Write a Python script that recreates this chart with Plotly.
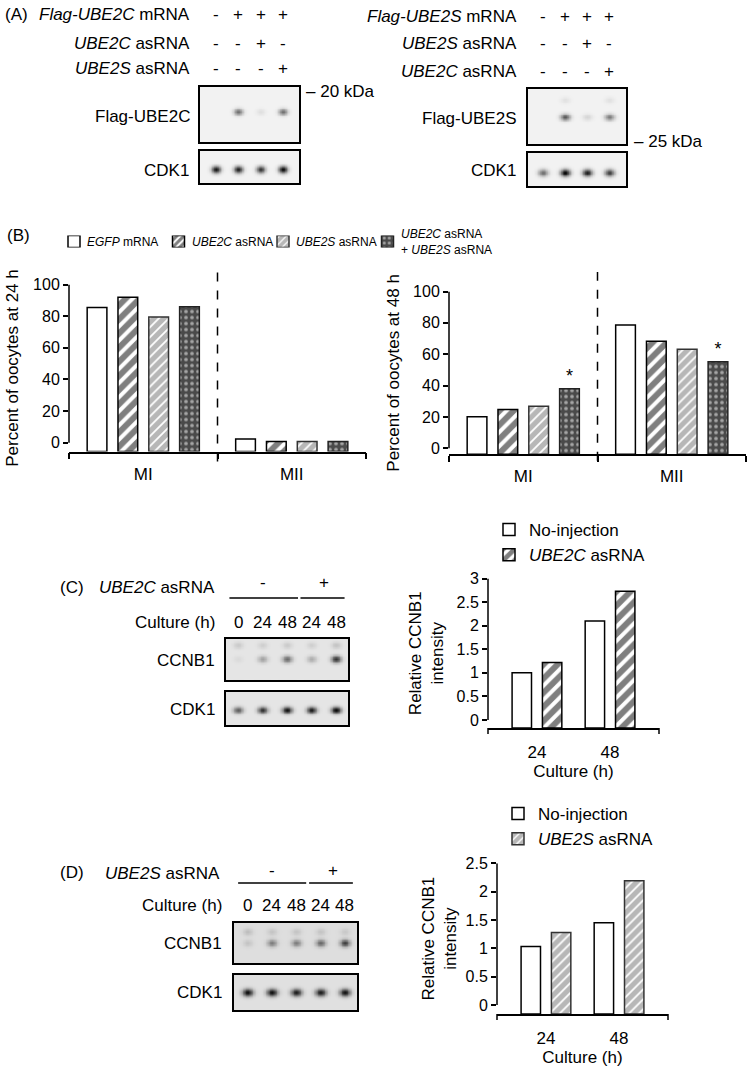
import numpy as np
import plotly.graph_objects as go

W, H = 749, 1068
FONT = "Liberation Sans, Arial, sans-serif"

# ---------------- data ----------------
# Panel A (western blots)
A_LEFT_LABELS = ["<i>Flag-UBE2C</i> mRNA", "<i>UBE2C</i> asRNA", "<i>UBE2S</i> asRNA"]
A_RIGHT_LABELS = ["<i>Flag-UBE2S</i> mRNA", "<i>UBE2S</i> asRNA", "<i>UBE2C</i> asRNA"]
A_SIGNS_ROW1 = ["-", "+", "+", "+"]
A_SIGNS_ROW2 = ["-", "-", "+", "-"]
A_SIGNS_ROW3 = ["-", "-", "-", "+"]
A_LEFT_FLAG = [0.0, 0.55, 0.08, 0.55]
A_LEFT_CDK1 = [0.95, 0.9, 0.8, 1.0]
A_RIGHT_FLAG = [0.0, 0.65, 0.12, 0.5]
A_RIGHT_FLAG_UPPER = [0.0, 0.07, 0.0, 0.07]
A_RIGHT_CDK1 = [0.55, 1.0, 0.9, 0.75]

# Panel B (bar charts)
B_CATEGORIES = ["MI", "MII"]
B_SERIES = ["EGFP mRNA", "UBE2C asRNA", "UBE2S asRNA", "UBE2C asRNA + UBE2S asRNA"]
B_LEGEND_TEXT = ["<i>EGFP</i> mRNA", "<i>UBE2C</i> asRNA", "<i>UBE2S</i> asRNA",
                 "<i>UBE2C</i> asRNA<br>+ <i>UBE2S</i> asRNA"]
B24_EGFP = [85.5, 2.4]
B24_UBE2C = [92.0, 0.8]
B24_UBE2S = [79.5, 0.8]
B24_BOTH = [86.0, 0.8]
B48_EGFP = [20.1, 78.7]
B48_UBE2C = [24.8, 68.3]
B48_UBE2S = [26.9, 63.2]
B48_BOTH = [38.0, 55.2]
B48_SIG = ["*", "*"]
B_YTICKS = [0, 20, 40, 60, 80, 100]

# Panels C / D
CULTURE_LANES = ["0", "24", "48", "24", "48"]
C_CCNB1_UPPER = [0.12, 0.10, 0.12, 0.10, 0.15]
C_CCNB1 = [0.05, 0.30, 0.55, 0.25, 0.80]
C_CDK1 = [0.60, 0.80, 0.95, 0.90, 1.00]
D_CCNB1_UPPER = [0.15, 0.12, 0.12, 0.12, 0.10]
D_CCNB1 = [0.12, 0.45, 0.45, 0.55, 0.75]
D_CDK1 = [0.95, 0.95, 0.90, 0.90, 0.95]

CULTURE = ["24", "48"]
C_NOINJ = [1.0, 2.1]
C_UBE2C = [1.22, 2.73]
C_YTICKS = [0, 0.5, 1, 1.5, 2, 2.5, 3]
D_NOINJ = [1.03, 1.45]
D_UBE2S = [1.28, 2.19]
D_YTICKS = [0, 0.5, 1, 1.5, 2, 2.5]


# ---------------- helpers ----------------
def xd(a, b):
    return [a / W, b / W]


def yd(top, bottom):
    return [1 - bottom / H, 1 - top / H]


def style(kind, size=None):
    if kind == "white":
        return dict(color="white", line=dict(color="black", width=1.5))
    if kind == "black":
        return dict(color="white", line=dict(color="black", width=1.5),
                    pattern=dict(shape="/", fgcolor="black", bgcolor="white",
                                 size=size or 10, solidity=0.6))
    if kind == "gray":
        return dict(color="white", line=dict(color="#333333", width=1.5),
                    pattern=dict(shape="/", fgcolor="#6f6f6f", bgcolor="white",
                                 size=size or 7, solidity=0.75))
    return dict(color="#4d4d4d", line=dict(color="#222222", width=1.5),
                pattern=dict(shape=".", fgcolor="white", bgcolor="#4a4a4a",
                             size=size or 6, solidity=0.3))


B_KINDS = ["white", "black", "gray", "checker"]

fig = go.Figure()
ann = []
shapes = []
lay = {}
TXT = 17


def text(x, y, s, xanchor="center", size=TXT, xref="paper", family=FONT, **kw):
    ann.append(dict(x=(x / W if xref == "paper" else x), y=1 - y / H, xref=xref, yref="paper",
                    text=s, showarrow=False, xanchor=xanchor, yanchor="middle",
                    font=dict(family=family, size=size, color="black"), **kw))


# ---------------- blots ----------------
def blot(ax, rows, xr, bg, sx, sy, dom_x, dom_y):
    x = np.linspace(xr[0], xr[1], 160)
    y = np.linspace(0, 1, 70)
    X, Y = np.meshgrid(x, y)
    dark = np.zeros_like(X)
    for yrow, ints in rows:
        for lane, inten in enumerate(ints):
            dark += inten * np.exp(-((X - lane) / sx) ** 2 - ((Y - yrow) / sy) ** 2)
    z = bg + (1 - bg) * np.clip(dark, 0, 1) * 0.97
    fig.add_trace(go.Heatmap(x=x, y=y, z=z, zmin=0, zmax=1, zsmooth="best",
                             colorscale=[[0, "#ffffff"], [1, "#000000"]], showscale=False,
                             hoverinfo="skip", xaxis="x" + ax, yaxis="y" + ax))
    common = dict(showticklabels=False, ticks="", showgrid=False, zeroline=False,
                  showline=True, mirror=True, linecolor="black", linewidth=2)
    lay["xaxis" + ax] = dict(domain=dom_x, range=xr, anchor="y" + ax, **common)
    lay["yaxis" + ax] = dict(domain=dom_y, range=[0, 1], anchor="x" + ax, **common)


blot("5", [(0.55, A_LEFT_FLAG)], [-0.72, 3.72], 0.05, 0.2, 0.06, xd(200, 299), yd(87, 142))
blot("6", [(0.42, A_LEFT_CDK1)], [-0.72, 3.72], 0.05, 0.2, 0.11, xd(200, 299), yd(151, 183))
blot("7", [(0.49, A_RIGHT_FLAG), (0.8, A_RIGHT_FLAG_UPPER)], [-0.68, 3.75], 0.05, 0.22, 0.06,
     xd(528, 626), yd(89, 144))
blot("8", [(0.40, A_RIGHT_CDK1)], [-0.68, 3.75], 0.05, 0.22, 0.11, xd(528, 626), yd(153, 186))
blot("9", [(0.85, C_CCNB1_UPPER), (0.51, C_CCNB1)], [-0.49, 4.49], 0.1, 0.2, 0.085,
     xd(226, 348), yd(639, 680))
blot("10", [(0.45, C_CDK1)], [-0.49, 4.49], 0.1, 0.2, 0.1, xd(226, 348), yd(692, 725))
blot("11", [(0.78, D_CCNB1_UPPER), (0.5, D_CCNB1)], [-0.56, 4.5], 0.13, 0.2, 0.09,
     xd(234, 357), yd(923, 963))
blot("12", [(0.5, D_CDK1)], [-0.56, 4.5], 0.12, 0.22, 0.11, xd(234, 357), yd(975, 1010))

# ---------------- Panel A text ----------------
text(3, 15, "(A)", xanchor="left")
for lbl, yy in zip(A_LEFT_LABELS, [15, 43, 69]):
    text(192, yy, lbl, xanchor="right")
for lbl, yy in zip(A_RIGHT_LABELS, [17, 43, 71]):
    text(519, yy, lbl, xanchor="right")
for signs, yl, yr in zip([A_SIGNS_ROW1, A_SIGNS_ROW2, A_SIGNS_ROW3], [15, 43, 69], [17, 43, 71]):
    for i, s in enumerate(signs):
        text(i, yl, s, xref="x5")
        text(i, yr, s, xref="x7")
text(192, 117, "Flag-UBE2C", xanchor="right")
text(191, 170, "CDK1", xanchor="right")
text(304, 92, "– 20 kDa", xanchor="left")
text(518, 118, "Flag-UBE2S", xanchor="right")
text(518, 170, "CDK1", xanchor="right")
text(632, 141, "– 25 kDa", xanchor="left")

# ---------------- Panel B ----------------
text(5, 236, "(B)", xanchor="left")

B24_MIN = -5.5
B48_MIN = -3.8
for name, vals, kind in zip(B_SERIES, [B24_EGFP, B24_UBE2C, B24_UBE2S, B24_BOTH], B_KINDS):
    fig.add_trace(go.Bar(x=B_CATEGORIES, y=[v - B24_MIN for v in vals], base=B24_MIN,
                         customdata=vals, hovertemplate="%{x}: %{customdata}<extra>" + name + "</extra>",
                         name=name, marker=style(kind), showlegend=False, xaxis="x", yaxis="y"))
for name, vals, kind in zip(B_SERIES, [B48_EGFP, B48_UBE2C, B48_UBE2S, B48_BOTH], B_KINDS):
    extra = {}
    if kind == "checker":
        extra = dict(text=B48_SIG, textposition="outside",
                     textfont=dict(family=FONT, size=18, color="black"), cliponaxis=False)
    fig.add_trace(go.Bar(x=B_CATEGORIES, y=[v - B48_MIN for v in vals], base=B48_MIN,
                         customdata=vals, hovertemplate="%{x}: %{customdata}<extra>" + name + "</extra>",
                         name=name, marker=style(kind), showlegend=False, xaxis="x2", yaxis="y2", **extra))

# manual legend for panel B (swatches drawn as bars on a hidden axis)
LEG_STEP = 104.5
for i, (name, kind) in enumerate(zip(B_SERIES, B_KINDS)):
    fig.add_trace(go.Bar(x=[i], y=[1], width=[12 / LEG_STEP], offset=-6 / LEG_STEP,
                         marker=style(kind, size=5), showlegend=False, hoverinfo="skip",
                         xaxis="x13", yaxis="y13"))
    text(i, 241.5, B_LEGEND_TEXT[i], xanchor="left", size=12, xref="x13", xshift=11,
         align="left")
lay["xaxis13"] = dict(domain=xd(74 - LEG_STEP / 2, 74 + 3.5 * LEG_STEP), range=[-0.5, 3.5],
                      visible=False, anchor="y13")
lay["yaxis13"] = dict(domain=yd(235.5, 247.5), range=[0, 1], visible=False, anchor="x13")


def bar_axes(xa, ya, dom_x, dom_y, yr, ticks, xr=None, boundaries=True, tickfs=16):
    xs = xa.replace("axis", "")
    ys = ya.replace("axis", "")
    x = dict(domain=dom_x, anchor=ys, type="category", showline=True,
             linecolor="black", linewidth=1.5, showgrid=False, zeroline=False,
             tickfont=dict(family=FONT, size=17, color="black"), automargin=False)
    if boundaries:
        x.update(ticks="outside", tickson="boundaries", ticklen=6, tickwidth=1.5, tickcolor="black",
                 ticklabelstandoff=6)
    else:
        x.update(ticks="", ticklabelstandoff=8)
        # small ticks at both ends of the horizontal axis
        for xx in (0, 1):
            shapes.append(dict(type="line", xref=xs + " domain", x0=xx, x1=xx,
                               yref=ys + " domain", y0=0, y1=-0.04,
                               line=dict(color="black", width=1.5)))
    if xr is not None:
        x["range"] = xr
    y = dict(domain=dom_y, anchor=xs, range=yr, tickvals=ticks,
             showline=False, showgrid=False, zeroline=False, ticks="outside", ticklen=5,
             tickwidth=1.5, tickcolor="black", tickfont=dict(family=FONT, size=tickfs, color="black"),
             automargin=False)
    lay[xa] = x
    lay[ya] = y
    # Excel-style vertical axis line from 0 to the top tick
    shapes.append(dict(type="line", xref=xs + " domain", x0=0, x1=0,
                       yref=ys, y0=0, y1=ticks[-1],
                       line=dict(color="black", width=1.5)))


bar_axes("xaxis", "yaxis", xd(69, 366), yd(284.5, 451.5), [B24_MIN, 100], B_YTICKS)
bar_axes("xaxis2", "yaxis2", xd(449, 746), yd(291.5, 454.3), [B48_MIN, 100], B_YTICKS)
lay["yaxis"]["title"] = dict(text="Percent of oocytes at 24 h", standoff=10,
                             font=dict(family=FONT, size=17, color="black"))
lay["yaxis2"]["title"] = dict(text="Percent of oocytes at 48 h", standoff=9,
                              font=dict(family=FONT, size=17, color="black"))
shapes.append(dict(type="line", xref="x", x0=0.5, x1=0.5, yref="y domain", y0=-0.06, y1=1.09,
                   line=dict(color="black", width=1.5, dash="dash")))
shapes.append(dict(type="line", xref="x2", x0=0.5, x1=0.5, yref="y2 domain", y0=-0.04, y1=1.12,
                   line=dict(color="black", width=1.5, dash="dash")))

# ---------------- Panel C ----------------
text(58, 587, "(C)", xanchor="left")
text(217, 587, "<i>UBE2C</i> asRNA", xanchor="right")
text(1, 583, "-", xref="x9")
text(3.5, 583, "+", xref="x9")
shapes.append(dict(type="line", xref="x9", x0=-0.35, x1=2.45, yref="paper", y0=1 - 598 / H,
                   y1=1 - 598 / H, line=dict(color="black", width=1.5)))
shapes.append(dict(type="line", xref="x9", x0=2.55, x1=4.35, yref="paper", y0=1 - 598 / H,
                   y1=1 - 598 / H, line=dict(color="black", width=1.5)))
text(217, 622, "Culture (h)", xanchor="right")
for i, lab in enumerate(CULTURE_LANES):
    text(i, 622, lab, xref="x9")
text(217, 660, "CCNB1", xanchor="right")
text(217, 709, "CDK1", xanchor="right")

fig.add_trace(go.Bar(x=CULTURE, y=[v + 0.17 for v in C_NOINJ], base=-0.17, customdata=C_NOINJ,
                     hovertemplate="%{x} h: %{customdata}<extra>No-injection</extra>",
                     name="No-injection", marker=style("white"), legend="legend2",
                     xaxis="x3", yaxis="y3"))
fig.add_trace(go.Bar(x=CULTURE, y=[v + 0.17 for v in C_UBE2C], base=-0.17, customdata=C_UBE2C,
                     hovertemplate="%{x} h: %{customdata}<extra>UBE2C asRNA</extra>",
                     name="<i>UBE2C</i> asRNA", marker=style("black"), legend="legend2",
                     xaxis="x3", yaxis="y3"))
bar_axes("xaxis3", "yaxis3", xd(488, 659), yd(578.5, 728), [-0.17, 3], C_YTICKS,
         xr=[-0.67, 1.67], boundaries=False)
lay["xaxis3"]["title"] = dict(text="Culture (h)", standoff=3, font=dict(family=FONT, size=17, color="black"))
lay["yaxis3"]["title"] = dict(text="Relative CCNB1<br>intensity", standoff=8,
                              font=dict(family=FONT, size=17, color="black"))

# ---------------- Panel D ----------------
text(58, 872, "(D)", xanchor="left")
text(222, 873, "<i>UBE2S</i> asRNA", xanchor="right")
text(1, 870, "-", xref="x11")
text(3.5, 870, "+", xref="x11")
shapes.append(dict(type="line", xref="x11", x0=-0.39, x1=2.41, yref="paper", y0=1 - 883 / H,
                   y1=1 - 883 / H, line=dict(color="black", width=1.5)))
shapes.append(dict(type="line", xref="x11", x0=2.53, x1=4.33, yref="paper", y0=1 - 883 / H,
                   y1=1 - 883 / H, line=dict(color="black", width=1.5)))
text(224, 905, "Culture (h)", xanchor="right")
for i, lab in enumerate(CULTURE_LANES):
    text(i, 905, lab, xref="x11")
text(224, 943, "CCNB1", xanchor="right")
text(224, 992, "CDK1", xanchor="right")

fig.add_trace(go.Bar(x=CULTURE, y=[v + 0.16 for v in D_NOINJ], base=-0.16, customdata=D_NOINJ,
                     hovertemplate="%{x} h: %{customdata}<extra>No-injection</extra>",
                     name="No-injection", marker=style("white"), legend="legend3",
                     xaxis="x4", yaxis="y4"))
fig.add_trace(go.Bar(x=CULTURE, y=[v + 0.16 for v in D_UBE2S], base=-0.16, customdata=D_UBE2S,
                     hovertemplate="%{x} h: %{customdata}<extra>UBE2S asRNA</extra>",
                     name="<i>UBE2S</i> asRNA", marker=style("gray"), legend="legend3",
                     xaxis="x4", yaxis="y4"))
bar_axes("xaxis4", "yaxis4", xd(497, 668), yd(863.3, 1014), [-0.16, 2.5], D_YTICKS,
         xr=[-0.67, 1.67], boundaries=False)
lay["xaxis4"]["title"] = dict(text="Culture (h)", standoff=3, font=dict(family=FONT, size=17, color="black"))
lay["yaxis4"]["title"] = dict(text="Relative CCNB1<br>intensity", standoff=4,
                              font=dict(family=FONT, size=17, color="black"))

legend_common = dict(xanchor="left", yanchor="top", bgcolor="rgba(0,0,0,0)", borderwidth=0,
                     font=dict(family=FONT, size=17, color="black"), itemwidth=30,
                     traceorder="normal", orientation="v")
fig.update_layout(
    width=W, height=H, margin=dict(l=0, r=0, t=0, b=0, autoexpand=False),
    paper_bgcolor="white", plot_bgcolor="white",
    barmode="group", bargap=0.17, bargroupgap=0.36,
    font=dict(family=FONT, size=16, color="black"),
    showlegend=True,
    legend2=dict(x=489 / W, y=1 - 512 / H, **legend_common),
    legend3=dict(x=498 / W, y=1 - 796 / H, **legend_common),
    annotations=ann, shapes=shapes,
    **lay,
)
fig.write_html("out.html", config={"displayModeBar": False},
               post_script="document.body.style.margin='0px';document.body.style.overflow='hidden';")
